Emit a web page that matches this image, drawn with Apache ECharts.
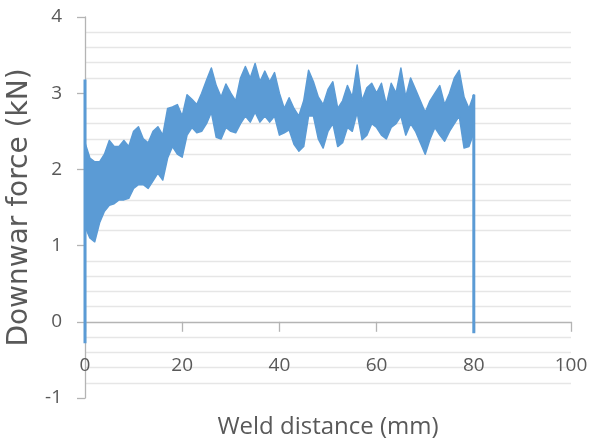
<!DOCTYPE html>
<html><head><meta charset="utf-8">
<script src="https://cdn.jsdelivr.net/npm/echarts@6/dist/echarts.min.js"></script>
<style>html,body{margin:0;padding:0;background:#fff}#c{width:592px;height:448px}</style>
</head><body><div id="c"></div>
<script>
// Weld distance (mm) sample positions
const distance = [0,1,2,3,4,5,6,7,8,9,10,11,12,13,14,15,16,17,18,19,20,
  21,22,23,24,25,26,27,28,29,30,31,32,33,34,35,36,37,38,39,40,
  41,42,43,44,45,46,47,48,49,50,51,52,53,54,55,56,57,58,59,60,
  61,62,63,64,65,66,67,68,69,70,71,72,73,74,75,76,77,78,79,80];
// Upper envelope of the noisy force trace (kN)
const forceUpper = [2.35,2.15,2.10,2.10,2.20,2.38,2.30,2.30,2.38,2.30,2.50,
  2.56,2.40,2.35,2.50,2.56,2.45,2.80,2.82,2.85,2.70,
  2.98,2.92,2.85,3.00,3.17,3.33,3.10,2.95,3.12,3.00,
  2.90,3.20,3.35,3.20,3.39,3.15,3.29,3.15,3.27,3.00,
  2.80,2.94,2.80,2.70,2.90,3.30,3.15,2.95,2.85,3.05,
  3.15,2.80,2.90,3.10,2.95,3.37,2.90,3.07,3.13,3.00,
  3.13,2.85,3.13,3.00,3.33,2.95,3.20,3.05,2.90,2.75,
  2.90,3.00,3.10,2.85,3.00,3.20,3.30,2.95,2.80,2.98];
// Lower envelope of the noisy force trace (kN)
const forceLower = [1.25,1.10,1.05,1.30,1.45,1.53,1.55,1.60,1.60,1.62,1.75,
  1.80,1.80,1.75,1.85,1.95,1.86,2.15,2.30,2.20,2.16,
  2.45,2.55,2.48,2.50,2.60,2.75,2.42,2.40,2.55,2.50,
  2.48,2.60,2.70,2.62,2.75,2.62,2.70,2.62,2.70,2.45,
  2.48,2.52,2.33,2.24,2.30,2.70,2.70,2.40,2.28,2.50,
  2.60,2.30,2.35,2.55,2.50,2.75,2.39,2.45,2.60,2.55,
  2.45,2.40,2.55,2.60,2.70,2.45,2.60,2.50,2.35,2.20,
  2.40,2.55,2.45,2.37,2.50,2.60,2.70,2.28,2.30,2.48];
// Vertical transients at start and end of the weld
const spikeDistance = [0, 80];
const startSpike = [-0.28, 3.18];
const endSpike = [2.98, -0.15];
const xTicks = [0, 20, 40, 60, 80, 100];
const yTicks = [-1, 0, 1, 2, 3, 4];

const blue = '#5B9BD5';
const font = "'Open Sans', 'Noto Sans', sans-serif";
const chart = echarts.init(document.getElementById('c'), null, {renderer: 'canvas'});

chart.setOption({
  animation: false,
  backgroundColor: '#ffffff',
  grid: {left: 85, right: 21, top: 17, bottom: 50, containLabel: false, outerBoundsMode: 'none'},
  xAxis: {
    type: 'value', min: xTicks[0], max: xTicks[xTicks.length - 1], interval: 20,
    name: 'Weld distance (mm)', nameLocation: 'middle', nameGap: 29,
    nameTextStyle: {fontFamily: font, fontSize: 24, color: '#595959', verticalAlign: 'middle'},
    axisLine: {show: true, onZero: true, lineStyle: {color: '#b4b4b4', width: 1.3}},
    axisTick: {show: true, length: 10, lineStyle: {color: '#b4b4b4', width: 1.3}},
    axisLabel: {margin: -42, fontFamily: font, fontSize: 19, color: '#595959'},
    splitLine: {show: false}
  },
  yAxis: {
    type: 'value', min: yTicks[0], max: yTicks[yTicks.length - 1], interval: 1,
    name: 'Downwar force (kN)', nameLocation: 'middle', nameGap: 64, nameRotate: 90,
    nameTextStyle: {fontFamily: "'DejaVu Sans', sans-serif", fontSize: 28, color: '#595959', verticalAlign: 'middle'},
    axisLine: {show: true, onZero: false, lineStyle: {color: '#b4b4b4', width: 1.3}},
    axisTick: {show: true, length: 8, lineStyle: {color: '#b4b4b4', width: 1.3}},
    axisLabel: {margin: 23, fontFamily: font, fontSize: 19, color: '#595959'},
    splitLine: {show: false},
    minorTick: {show: false, splitNumber: 5},
    minorSplitLine: {show: true, lineStyle: {color: '#e6e6e6', width: 1.3}}
  },
  series: [
    {
      type: 'custom',
      coordinateSystem: 'cartesian2d',
      data: [[distance[0], forceUpper[0]]],
      silent: true,
      renderItem: function (params, api) {
        const pts = [];
        for (let i = 0; i < distance.length; i++) pts.push(api.coord([distance[i], forceUpper[i]]));
        for (let i = distance.length - 1; i >= 0; i--) pts.push(api.coord([distance[i], forceLower[i]]));
        return {type: 'polygon', shape: {points: pts},
          style: {fill: blue, stroke: blue, lineWidth: 1.5, lineJoin: 'round'}};
      }
    },
    {
      type: 'line', showSymbol: false, clip: false,
      data: startSpike.map(v => [spikeDistance[0], v]),
      lineStyle: {color: blue, width: 3}
    },
    {
      type: 'line', showSymbol: false, clip: false,
      data: endSpike.map(v => [spikeDistance[1], v]),
      lineStyle: {color: blue, width: 3}
    }
  ]
});
</script>
</body></html>
